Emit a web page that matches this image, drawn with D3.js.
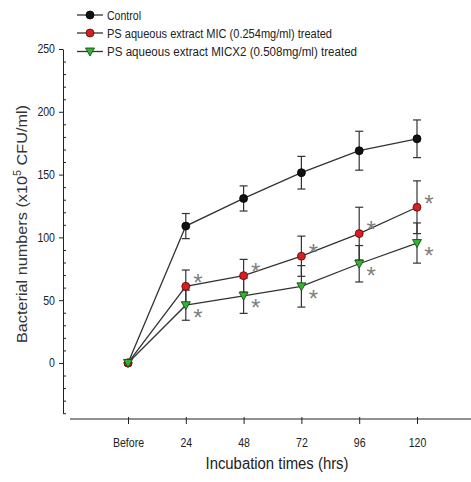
<!DOCTYPE html>
<html><head><meta charset="utf-8">
<script src="https://cdn.jsdelivr.net/npm/d3@7"></script>
<style>body{margin:0;background:#fff}svg{display:block}text{font-family:"Liberation Sans",Arial,sans-serif}</style>
</head><body><svg id="c" width="471" height="482"></svg>
<script>
const categories = ["Before","24","48","72","96","120"];
const control    = [0,109,131,151.5,169,178.5];
const controlErr = [0,10,10,13,15.5,15];
const mic        = [0,61,69.5,85,103,124];
const micErr     = [0,13,13,16,21,21];
const micx2      = [0,46,53.5,61,79,95.5];
const micx2Err   = [0,12,14,16.5,14.5,16];
const micSig     = [false,true,true,true,true,true];
const micx2Sig   = [false,true,true,true,true,true];
const yMajor = [0,50,100,150,200,250];
const legendLabels = ["Control","PS aqueous extract MIC (0.254mg/ml) treated","PS aqueous extract MICX2 (0.508mg/ml) treated"];

const svg = d3.select("#c");
const x = d3.scalePoint().domain(categories).range([128,417]);
const y = d3.scaleLinear().domain([-40,250]).range([413.2,49]);

// Y axis
const yMinor = d3.range(-40,251,10).filter(v=>v%50!==0);
const gy = svg.append("g").attr("transform","translate(63,0)");
gy.call(d3.axisLeft(y).tickValues(yMajor).tickSizeInner(4).tickSizeOuter(0).tickPadding(4));
gy.select(".domain").attr("stroke","#222");
gy.selectAll(".tick line").attr("stroke","#222");
gy.selectAll(".tick text").attr("font-size",12).attr("fill","#222").attr("font-family","Liberation Sans, Arial, sans-serif")
  .attr("transform","scale(0.88,1)").attr("x",-8/0.88);
const gym = svg.append("g").attr("transform","translate(63,0)");
gym.call(d3.axisLeft(y).tickValues(yMinor).tickSizeInner(-3).tickSizeOuter(0).tickFormat(""));
gym.select(".domain").remove();
gym.selectAll(".tick line").attr("stroke","#222");

// X axis
svg.append("line").attr("x1",70).attr("x2",471).attr("y1",419).attr("y2",419).attr("stroke","#222");
const gx = svg.append("g").attr("transform","translate(0,419)");
gx.call(d3.axisBottom(x).tickSizeInner(5).tickSizeOuter(0).tickPadding(14));
gx.select(".domain").remove();
gx.selectAll(".tick line").attr("stroke","#222").attr("y1",-2);
gx.selectAll(".tick text").attr("font-size",12).attr("fill","#222").attr("font-family","Liberation Sans, Arial, sans-serif")
  .attr("transform","scale(0.88,1)");

// titles
svg.append("text").attr("x",277).attr("y",469).attr("text-anchor","middle").attr("font-size",16).attr("fill","#222")
  .attr("textLength",143).attr("lengthAdjust","spacingAndGlyphs").text("Incubation times (hrs)");
const yt = svg.append("text").attr("transform","translate(27,224) rotate(-90)").attr("text-anchor","middle")
  .attr("font-size",15).attr("fill","#333").attr("textLength",238).attr("lengthAdjust","spacingAndGlyphs");
yt.append("tspan").text("Bacterial numbers (x10");
yt.append("tspan").attr("font-size",10).attr("dy",-6).text("5");
yt.append("tspan").attr("dy",6).text(" CFU/ml)");

const series = [
  {vals:control, err:controlErr, sig:null, type:"circle", fill:"#111", stroke:"#000"},
  {vals:mic, err:micErr, sig:micSig, type:"circle", fill:"#d42020", stroke:"#5a0a0a", sy:-9},
  {vals:micx2, err:micx2Err, sig:micx2Sig, type:"tri", fill:"#2fb52f", stroke:"#1b4d1b", sy:7}
];
const line = d3.line().x((d,i)=>x(categories[i])).y(d=>y(d));
const lineCol = "#333";
series.forEach(s=>{
  svg.append("path").attr("d",line(s.vals)).attr("fill","none").attr("stroke",lineCol).attr("stroke-width",1.3);
});
series.forEach(s=>{
  const g = svg.append("g").attr("stroke","#333").attr("stroke-width",1.2);
  s.vals.forEach((v,i)=>{
    const e=s.err[i]; if(!e) return;
    const cx=x(categories[i]);
    g.append("line").attr("x1",cx).attr("x2",cx).attr("y1",y(v-e)).attr("y2",y(v+e));
    [v-e,v+e].forEach(w=>g.append("line").attr("x1",cx-4).attr("x2",cx+4).attr("y1",y(w)).attr("y2",y(w)));
  });
});
function marker(g,type,cx,cy,fill,stroke){
  if(type==="circle") g.append("circle").attr("cx",cx).attr("cy",cy).attr("r",4).attr("fill",fill).attr("stroke",stroke).attr("stroke-width",0.8);
  else g.append("path").attr("d",`M${cx-4.5},${cy-3.5}L${cx+4.5},${cy-3.5}L${cx},${cy+4.5}Z`).attr("fill",fill).attr("stroke",stroke).attr("stroke-width",0.9);
}
const fsA = 24;
series.forEach(s=>{
  const g=svg.append("g");
  s.vals.forEach((v,i)=>marker(g,s.type,x(categories[i]),y(v),s.fill,s.stroke));
  if(s.sig) s.vals.forEach((v,i)=>{
    if(!s.sig[i]) return;
    const cx=x(categories[i])+12, cy=y(v)+s.sy;
    svg.append("text").attr("x",cx).attr("y",cy+0.57*fsA).attr("text-anchor","middle").attr("font-size",fsA).attr("fill","#808080").text("*");
  });
});

// legend
const lg = svg.append("g");
const rowsY=[15,33,51.5];
legendLabels.forEach((lab,i)=>{
  const s=series[i], yy=rowsY[i];
  lg.append("line").attr("x1",77).attr("x2",103).attr("y1",yy).attr("y2",yy).attr("stroke","#333").attr("stroke-width",1.3);
  marker(lg,s.type,90,yy,s.fill,s.stroke);
  lg.append("text").attr("x",107).attr("y",yy+4.5).attr("font-size",12.5).attr("fill","#222").text(lab);
});
const widths=[34,225,250];
lg.selectAll("text").attr("textLength",(d,i)=>widths[i]).attr("lengthAdjust","spacingAndGlyphs");
</script></body></html>
